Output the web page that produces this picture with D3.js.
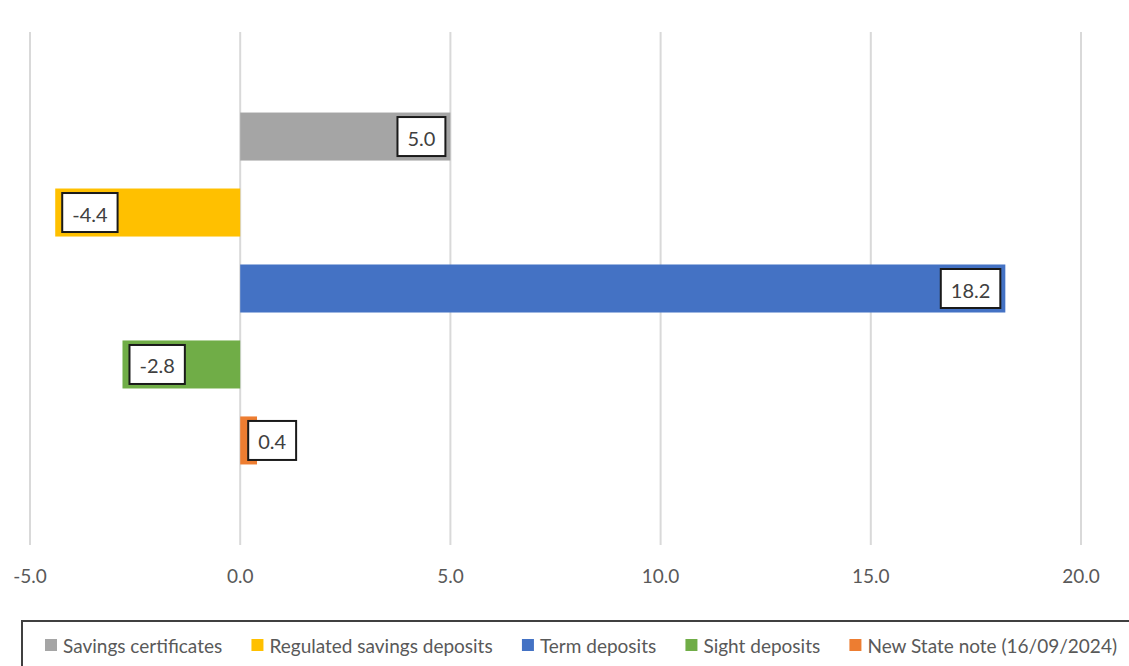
<!DOCTYPE html>
<html>
<head>
<meta charset="utf-8">
<script src="https://cdn.jsdelivr.net/npm/d3@7"></script>
<style>
  body { margin: 0; background: #fff; }
  svg { display: block; font-family: Lato, "Open Sans", sans-serif; }
</style>
</head>
<body>
<div id="plot"></div>
<script>
// chart data
var seriesNames = ["Savings certificates", "Regulated savings deposits", "Term deposits", "Sight deposits", "New State note (16/09/2024)"];
var seriesValues = [5.0, -4.4, 18.2, -2.8, 0.4];
var seriesColors = ["#a5a5a5", "#ffc000", "#4472c4", "#70ad47", "#ed7d31"];
var xTicks = [-5, 0, 5, 10, 15, 20];

var width = 1129, height = 666;

var svg = d3.select("#plot").append("svg")
  .attr("width", width)
  .attr("height", height);

var x = d3.scaleLinear().domain([-5, 20]).range([30, 1081]);
var y = d3.scaleBand().domain(seriesNames).range([32, 545])
  .paddingInner(0.368).paddingOuter(1.06);

var fmt = function (v) { return d3.format(".1f")(v).replace("\u2212", "-"); };

// gridlines
svg.append("g").selectAll("line")
  .data(xTicks)
  .join("line")
  .attr("x1", d => x(d)).attr("x2", d => x(d))
  .attr("y1", 32).attr("y2", 545)
  .attr("stroke", "#d9d9d9")
  .attr("stroke-width", 2);

// tick labels
svg.append("g").selectAll("text")
  .data(xTicks)
  .join("text")
  .attr("x", d => x(d))
  .attr("y", 575)
  .attr("text-anchor", "middle")
  .attr("dominant-baseline", "central")
  .attr("fill", "#595959")
  .style("font-size", "19px")
  .text(d => fmt(d));

var data = seriesNames.map((n, i) => ({ name: n, value: seriesValues[i], color: seriesColors[i] }));

// bars
svg.append("g").selectAll("rect")
  .data(data)
  .join("rect")
  .attr("x", d => x(Math.min(0, d.value)))
  .attr("y", d => y(d.name))
  .attr("width", d => Math.abs(x(d.value) - x(0)))
  .attr("height", y.bandwidth())
  .attr("fill", d => d.color);

// data labels in boxes
var lab = svg.append("g").selectAll("g")
  .data(data)
  .join("g");

lab.each(function (d) {
  var g = d3.select(this);
  var t = g.append("text")
    .attr("text-anchor", "middle")
    .attr("dominant-baseline", "central")
    .attr("fill", "#404040")
    .style("font-size", "20px")
    .text(fmt(d.value));
  var w = t.node().getComputedTextLength() + 20;
  var h = 39;
  var cy = y(d.name) + y.bandwidth() / 2;
  var bx;
  if (d.value >= 0) {
    bx = Math.max(x(d.value) - 5 - w, x(0) + 8);
  } else {
    bx = x(d.value) + 7;
  }
  g.insert("rect", "text")
    .attr("x", bx).attr("y", cy - h / 2)
    .attr("width", w).attr("height", h)
    .attr("fill", "#fff")
    .attr("stroke", "#1a1a1a")
    .attr("stroke-width", 2);
  t.attr("x", bx + w / 2).attr("y", cy + 1);
});

// legend
var legend = svg.append("g");
legend.append("rect")
  .attr("x", 22).attr("y", 621)
  .attr("width", 1140).attr("height", 80)
  .attr("fill", "none")
  .attr("stroke", "#404040")
  .attr("stroke-width", 2);

var items = legend.selectAll("g.item")
  .data(data)
  .join("g").attr("class", "item");

items.append("rect")
  .attr("width", 12).attr("height", 12)
  .attr("y", 639)
  .attr("fill", d => d.color);
items.append("text")
  .attr("y", 645)
  .attr("dominant-baseline", "central")
  .attr("fill", "#595959")
  .style("font-size", "19px")
  .text(d => d.name);

var widths = [];
items.select("text").each(function () { widths.push(this.getComputedTextLength()); });
var markW = 18, left = 45, right = 1117;
var gap = (right - left - d3.sum(widths) - data.length * markW) / (data.length - 1);
var cx = left;
items.each(function (d, i) {
  var g = d3.select(this);
  g.select("rect").attr("x", cx);
  g.select("text").attr("x", cx + markW);
  cx += markW + widths[i] + gap;
});
</script>
</body>
</html>
